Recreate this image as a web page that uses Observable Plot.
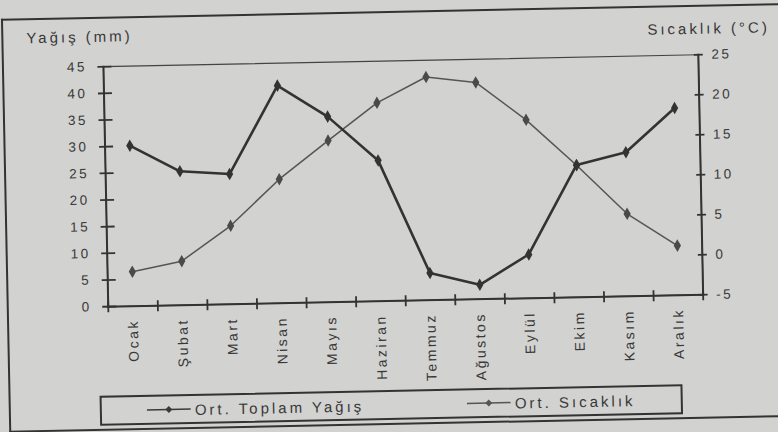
<!DOCTYPE html>
<html>
<head>
<meta charset="utf-8">
<script src="https://cdn.jsdelivr.net/npm/d3@7"></script>
<script src="https://cdn.jsdelivr.net/npm/@observablehq/plot@0.6"></script>
<style>
html, body { margin: 0; padding: 0; background: #d2d2d0; overflow: hidden; }
#wrap { position: relative; width: 778px; height: 432px; transform: rotate(-1.15deg); transform-origin: 389px 216px;
  font-family: "Liberation Sans", Arial, sans-serif; color: #383838; }
#border { position: absolute; left: 5px; top: 11px; width: 800px; height: 410px;
  border-left: 2px solid #333; border-top: 2px solid #333; border-bottom: 2px solid #333; }
.title { position: absolute; font-size: 15px; line-height: 15px; letter-spacing: 3px; white-space: nowrap; }
#chart { position: absolute; left: 0; top: 0; }
#chart svg text { letter-spacing: 2.5px; }
#legend { position: absolute; left: 96px; top: 390px; width: 579px; height: 26px; border: 2px solid #333; }
.item { position: absolute; top: 0; height: 26px; display: flex; align-items: center; font-size: 15px; letter-spacing: 3px; white-space: nowrap; }
.item svg { margin-right: 4px; }
</style>
</head>
<body>
<div id="wrap">
  <div id="border"></div>
  <div class="title" style="left:30px; top:23px;">Yağış (mm)</div>
  <div class="title" style="left:651px; top:27px;">Sıcaklık (°C)</div>
  <div id="chart"></div>
  <div id="legend">
    <div class="item" style="left:45px;">
      <svg width="44" height="10"><line x1="0" y1="5" x2="44" y2="5" stroke="#3a3a3a" stroke-width="1.5"/><path d="M22 1.5 L25.5 5 L22 8.5 L18.5 5 Z" fill="#3a3a3a"/></svg>Ort. Toplam Yağış
    </div>
    <div class="item" style="left:365px;">
      <svg width="44" height="10"><line x1="0" y1="5" x2="44" y2="5" stroke="#555" stroke-width="1.5"/><path d="M22 1.5 L25.5 5 L22 8.5 L18.5 5 Z" fill="#555"/></svg>Ort. Sıcaklık
    </div>
  </div>
</div>
<script>
const months = ["Ocak","Şubat","Mart","Nisan","Mayıs","Haziran","Temmuz","Ağustos","Eylül","Ekim","Kasım","Aralık"];
const precipitation = [30.1, 25.1, 24.4, 40.8, 34.8, 26.4, 5.1, 2.7, 8.2, 24.8, 27.0, 35.1];
const temperature = [-0.7, 0.5, 4.8, 10.5, 15.2, 19.8, 22.9, 22.1, 17.3, 11.5, 5.3, 1.2];
const precipTicks = [0, 5, 10, 15, 20, 25, 30, 35, 40, 45];
const tempTicks = [-5, 0, 5, 10, 15, 20, 25];

const pMax = precipTicks[precipTicks.length - 1];
const tMin = tempTicks[0], tMax = tempTicks[tempTicks.length - 1];
const tToP = t => (t - tMin) * pMax / (tMax - tMin);
const pToT = p => tMin + p * (tMax - tMin) / pMax;

const idx = months.map((m, i) => i);
const bounds = d3.range(months.length + 1).map(i => i - 0.5);
const precipData = months.map((m, i) => ({i, v: precipitation[i]}));
const tempData = months.map((m, i) => ({i, v: tToP(temperature[i])}));

const chart = Plot.plot({
  width: 778,
  height: 400,
  marginLeft: 106,
  marginRight: 77,
  marginTop: 60.5,
  marginBottom: 99.5,
  x: {type: "linear", domain: [bounds[0], bounds[bounds.length - 1]]},
  y: {domain: [0, pMax]},
  style: {background: "transparent", fontFamily: "'Liberation Sans', Arial, sans-serif", fontSize: "13.5px", color: "#383838", overflow: "visible"},
  marks: [
    Plot.frame({stroke: "#444", strokeWidth: 1.2}),
    Plot.frame({anchor: "left", stroke: "#333", strokeWidth: 2}),
    Plot.frame({anchor: "right", stroke: "#333", strokeWidth: 2}),
    Plot.frame({anchor: "bottom", stroke: "#333", strokeWidth: 2}),
    Plot.axisY({anchor: "left", ticks: precipTicks, tickSize: 14, dx: 8.5, tickPadding: 11, stroke: "#333", strokeWidth: 1.8, label: null}),
    Plot.axisY({anchor: "right", ticks: tempTicks.map(tToP), tickFormat: p => String(Math.round(pToT(p))), tickSize: 9, dx: -5, tickPadding: 9, stroke: "#333", strokeWidth: 1.8, label: null}),
    Plot.axisX({ticks: bounds, tickFormat: () => "", tickSize: 11, dy: -5, stroke: "#333", strokeWidth: 1.8, label: null}),
    Plot.axisX({ticks: idx, tickFormat: i => months[i], tickSize: 0, tickPadding: 13, tickRotate: -90, fontSize: 14, label: null}),
    Plot.lineY(tempData, {x: "i", y: "v", stroke: "#555", strokeWidth: 1.5}),
    Plot.dot(tempData, {x: "i", y: "v", symbol: "diamond", r: 3.8, fill: "#4a4a4a"}),
    Plot.lineY(precipData, {x: "i", y: "v", stroke: "#333", strokeWidth: 2.6}),
    Plot.dot(precipData, {x: "i", y: "v", symbol: "diamond", r: 3.8, fill: "#333"})
  ]
});
document.getElementById("chart").appendChild(chart);
</script>
</body>
</html>
